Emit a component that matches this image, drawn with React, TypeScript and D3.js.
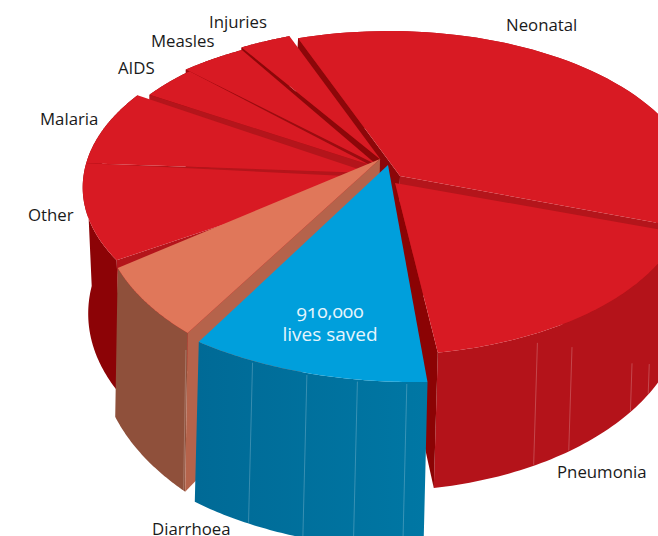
import React from "react";
import * as d3 from "d3";

const categories = ["Neonatal", "Pneumonia", "Diarrhoea", "Unlabelled", "Other", "Malaria", "AIDS", "Measles", "Injuries"];
const shares = [37.5, 16.8, 10.3, 6.7, 9.6, 8.0, 3.5, 4.1, 3.5];
const trimEndDeg = [2.1, 2.4, 2.7, 2.2, 0, 1.4, 0, 0.5, 1.4];
const rimStart = [1.01, 0.975, 1.118, 1.064, 0.985, 1.008, 0.993, 1.02, 1.035];
const rimEnd = [1.0, 0.998, 1.08, 1.0, 1.008, 1.028, 1.0, 1.015, 1.039];
const apexX = [400, 395, 388, 380, 366, 370, 370, 377, 381];
const apexY = [176, 183, 165, 159, 177, 173, 165, 165, 160];
const depthScale = [1, 0.98, 1.17, 1.17, 1.08, 0.3, 0.5, 1, 1];
const shear = [-3, -4, -4, -2.5, 5.5, 0, 0, 0, 0];
const topColors = ["#d81a23", "#d81a23", "#009fdc", "#e0775a", "#d81a23", "#d81a23", "#d81a23", "#d81a23", "#d81a23"];
const outerColors = ["#b4131a", "#b4131a", "url(#blueWall)", "#8f503b", "#8c0306", "#8c0306", "#8c0306", "#8c0306", "#8c0306"];
const startWallColors = ["#8c0709", null, null, "#b5634b", "#b4151b", "#b4151b", "#b4151b", "#9a0c10", "#8c0709"];
const endWallColors = ["#b4151b", "#8b0304", null, null, null, null, null, null, null];
const paintOrder = [0, 8, 7, 6, 5, 4, 1, 3, 2];

const facetSlice = [2, 2, 2, 2, 1, 1, 1, 1, 3];
const facetAngle = [177.7, 184.5, 191.7, 200, 155.5, 148.6, 133.5, 127.6, 212.3];
const facetFrom = [0, 0, 0, 0, 0.06, 0.19, 0.6, 0.74, 0.1];

const labels = ["Neonatal", "Injuries", "Measles", "AIDS", "Malaria", "Other", "Pneumonia", "Diarrhoea"];
const labelX = [506, 209, 151, 118, 40, 28, 557, 152];
const labelY = [31, 28, 47, 74, 125, 221, 478, 535];
const centreLines = ["910,000", "lives saved"];
const centreY = [318, 341];

const W = 658, H = 536;
const CX = 390, CY = 165, RX = 302, RY = 156.5, K = 0.1765, DEPTH = 114;
const rad = Math.PI / 180;

const project = (u: number, v: number): [number, number] => {
  const w = 1 - K * v;
  return [CX + (RX * u) / w, CY + (RY * v) / w];
};

const arcs = d3
  .pie<number>()
  .sort(null)
  .startAngle(-20.6 * rad)
  .endAngle((360 - 20.6) * rad)(shares);

const line = d3.line<[number, number]>();

type Rim = { x: number; y: number; d: number };

const rimAt = (i: number, a0: number, a1: number, a: number): Rim => {
  const r = d3.scaleLinear([a0, a1], [rimStart[i], rimEnd[i]])(a);
  const u = r * Math.sin(a);
  const v = -r * Math.cos(a);
  const [x, y] = project(u, v);
  return { x, y, d: (DEPTH * depthScale[i]) / (1 - K * v) };
};

export default function App() {
  const slices = paintOrder.map((i) => {
    const a0 = arcs[i].startAngle;
    const a1 = arcs[i].endAngle - trimEndDeg[i] * rad;
    const rim = d3.range(0, 61).map((t) => rimAt(i, a0, a1, a0 + ((a1 - a0) * t) / 60));
    const ax = apexX[i], ay = apexY[i];
    const s = shear[i];
    const ad = DEPTH * depthScale[i];
    const top = line([[ax, ay], ...rim.map((p) => [p.x, p.y] as [number, number])]) + "Z";
    const outer =
      line([
        ...rim.map((p) => [p.x, p.y] as [number, number]),
        ...rim.slice().reverse().map((p) => [p.x + s, p.y + p.d] as [number, number]),
      ]) + "Z";
    const wall = (p: Rim) =>
      line([[ax, ay], [p.x, p.y], [p.x + s, p.y + p.d], [ax + s, ay + ad]]) + "Z";
    const facets = facetAngle
      .map((deg, k) => ({ deg, k }))
      .filter((f) => facetSlice[f.k] === i)
      .map((f) => {
        const a = f.deg * rad;
        const norm = a < a0 ? a + 2 * Math.PI : a;
        const p = rimAt(i, a0, a1, norm);
        const t = d3.scaleLinear([0, 1], [p.y, p.y + p.d]);
        const xs = d3.scaleLinear([0, 1], [p.x, p.x + s]);
        return line([[xs(facetFrom[f.k]), t(facetFrom[f.k]) + 2], [xs(1), t(1) - 1]]) as string;
      });
    return { i, top, outer, start: wall(rim[0]), end: wall(rim[60]), facets };
  });

  const font = "'Open Sans', 'Noto Sans', sans-serif";

  return (
    <svg
      width={W}
      height={H}
      viewBox={`0 0 ${W} ${H}`}
      style={{ position: "fixed", left: 0, top: 0, display: "block", background: "#fff" }}
    >
      <defs>
        <linearGradient id="blueWall" gradientUnits="userSpaceOnUse" x1="196" x2="427" y1="0" y2="0">
          <stop offset="0" stopColor="#006a96" />
          <stop offset="1" stopColor="#0077a4" />
        </linearGradient>
      </defs>
      {slices.map((s) => (
        <g key={categories[s.i]} data-name={categories[s.i]}>
          <path d={s.outer} fill={outerColors[s.i]} />
          {s.facets.map((d, k) => (
            <path key={k} d={d} stroke="#fff" strokeOpacity={0.22} strokeWidth={1} fill="none" />
          ))}
          {startWallColors[s.i] && <path d={s.start} fill={startWallColors[s.i] as string} />}
          {endWallColors[s.i] && <path d={s.end} fill={endWallColors[s.i] as string} />}
          <path d={s.top} fill={topColors[s.i]} />
        </g>
      ))}
      {labels.map((t, i) => (
        <text key={t} x={labelX[i]} y={labelY[i]} fontFamily={font} fontSize={16.8} fill="#1a1a1a">
          {t}
        </text>
      ))}
      {centreLines.map((t, i) => (
        <text
          key={t}
          x={330}
          y={centreY[i]}
          textAnchor="middle"
          fontFamily={font}
          fontSize={19}
          fill="#e6f5fc"
          style={{ fontFeatureSettings: "'onum'" }}
        >
          {t}
        </text>
      ))}
    </svg>
  );
}
